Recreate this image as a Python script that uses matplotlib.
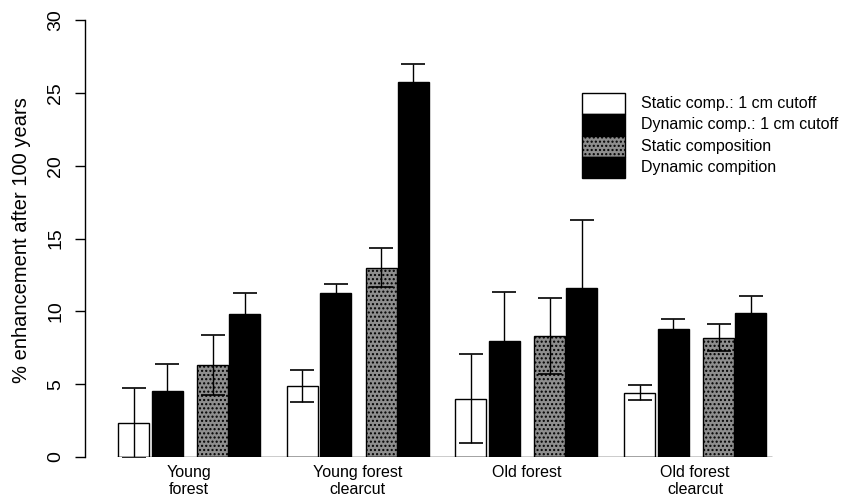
import matplotlib
matplotlib.use("Agg")
import matplotlib.pyplot as plt
from matplotlib.patches import Rectangle
import numpy as np

plt.rcParams["font.family"] = ["Liberation Sans", "DejaVu Sans"]
plt.rcParams["hatch.linewidth"] = 1.0

# Forest scenarios along the x axis
groups = ["Young\nforest", "Young forest\nclearcut", "Old forest", "Old forest\nclearcut"]

# Series: mean % enhancement after 100 years and error half-widths
series_names = [
    "Static comp.: 1 cm cutoff",
    "Dynamic comp.: 1 cm cutoff",
    "Static composition",
    "Dynamic compition",
]
static_cut = [2.35, 4.85, 4.0, 4.4]
static_cut_err = [2.4, 1.1, 3.05, 0.52]
dynamic_cut = [4.55, 11.25, 7.95, 8.8]
dynamic_cut_err = [1.85, 0.63, 3.35, 0.64]
static_comp = [6.3, 13.0, 8.3, 8.2]
static_comp_err = [2.05, 1.33, 2.6, 0.9]
dynamic_comp = [9.8, 25.75, 11.6, 9.9]
dynamic_comp_err = [1.45, 1.2, 4.7, 1.15]

yticks = [0, 5, 10, 15, 20, 25, 30]

values = [static_cut, dynamic_cut, static_comp, dynamic_comp]
errors = [static_cut_err, dynamic_cut_err, static_comp_err, dynamic_comp_err]

# Bar layout inside one group (fraction of group spacing)
offsets = np.array([0.0, 33.5, 79.0, 111.0]) / 168.6
width = 31.0 / 168.6
face = ["white", "black", "#8e8e8e", "black"]
hatches = [None, None, "....", None]

W, H = 843, 496
fig = plt.figure(figsize=(W / 100, H / 100), dpi=100)
ax = fig.add_axes([85 / W, 1 - 457 / H, (800 - 85) / W, (457 - 20) / H])

gx = np.arange(len(groups))
for k in range(4):
    left = gx + offsets[k]
    ax.bar(left, values[k], width=width, align="edge", color=face[k],
           edgecolor="black", linewidth=1.0, hatch=hatches[k], zorder=2)
    ax.errorbar(left + width / 2, values[k], yerr=errors[k], fmt="none",
                ecolor="black", elinewidth=1.0, capsize=8.3, capthick=1.2,
                zorder=3)

# Baseline under the bars
ax.hlines(0, -0.01, 3.88, color="black", linewidth=1.0, zorder=4)

ax.set_xlim((85 - 118.3) / 168.6, (800 - 118.3) / 168.6)
ax.set_ylim(0, 30)

for s in ["top", "right", "bottom"]:
    ax.spines[s].set_visible(False)
ax.spines["left"].set_linewidth(1.0)

ax.set_yticks(yticks)
ax.set_yticklabels([str(t) for t in yticks], rotation=90, va="center",
                   fontsize=14)
ax.tick_params(axis="y", length=7, width=1.0, pad=8)

centers = gx + (offsets[-1] + width) / 2
ax.set_xticks(centers)
ax.set_xticklabels(groups, fontsize=11.5, linespacing=1.12)
ax.tick_params(axis="x", length=0, pad=6)

fig.text(22 / W, 1 - 240 / H, "% enhancement after 100 years",
         rotation=90, ha="center", va="center", fontsize=14.5)

# Legend: stacked filled boxes with labels to their right
box_left, box_w, box_top, box_h = 582, 43, 93, 21.3
for k in range(4):
    y0 = box_top + k * box_h
    fig.add_artist(Rectangle((box_left / W, 1 - (y0 + box_h) / H),
                             box_w / W, box_h / H, transform=fig.transFigure,
                             facecolor=face[k], edgecolor="black",
                             hatch=hatches[k], linewidth=1.0))
    fig.text(641 / W, 1 - (y0 + box_h / 2) / H, series_names[k],
             ha="left", va="center", fontsize=11.5)

fig.savefig("out.png", dpi=100, facecolor="white")
